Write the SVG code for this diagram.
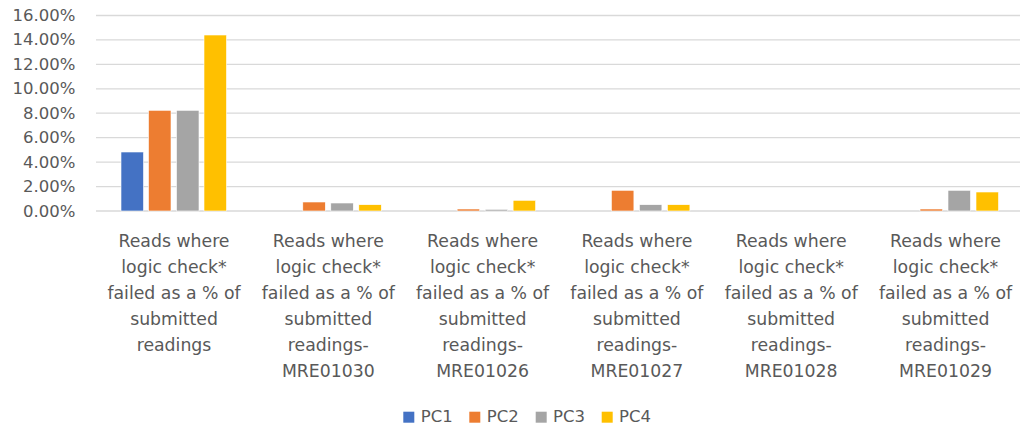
<svg xmlns="http://www.w3.org/2000/svg" width="1020" height="427" viewBox="0 0 1020 427">
<style>
.grid{stroke:#d9d9d9;stroke-width:1.3;fill:none}
.ytick{font-family:"DejaVu Sans","Liberation Sans",sans-serif;font-size:16.5px;fill:#595959;text-anchor:end}
.cat{font-family:"DejaVu Sans","Liberation Sans",sans-serif;font-size:17.3px;fill:#595959;text-anchor:middle}
.leg{font-family:"DejaVu Sans","Liberation Sans",sans-serif;font-size:16.5px;fill:#595959}
.pc1{fill:#4472c4}.pc2{fill:#ed7d31}.pc3{fill:#a5a5a5}.pc4{fill:#ffc000}
.bar{stroke:#ffffff;stroke-width:0.6}
</style>
<rect width="1020" height="427" fill="#ffffff"/>
<g id="gridlines">
<line class="grid" x1="96" y1="15.5" x2="1020" y2="15.5"/>
<line class="grid" x1="96" y1="39.9" x2="1020" y2="39.9"/>
<line class="grid" x1="96" y1="64.3" x2="1020" y2="64.3"/>
<line class="grid" x1="96" y1="88.8" x2="1020" y2="88.8"/>
<line class="grid" x1="96" y1="113.2" x2="1020" y2="113.2"/>
<line class="grid" x1="96" y1="137.7" x2="1020" y2="137.7"/>
<line class="grid" x1="96" y1="162.1" x2="1020" y2="162.1"/>
<line class="grid" x1="96" y1="186.6" x2="1020" y2="186.6"/>
<line class="grid" x1="96" y1="211" x2="1020" y2="211"/>
</g>
<g id="y-axis">
<text class="ytick" x="75.5" y="21">16.00%</text>
<text class="ytick" x="75.5" y="45.4">14.00%</text>
<text class="ytick" x="75.5" y="69.8">12.00%</text>
<text class="ytick" x="75.5" y="94.3">10.00%</text>
<text class="ytick" x="75.5" y="118.7">8.00%</text>
<text class="ytick" x="75.5" y="143.2">6.00%</text>
<text class="ytick" x="75.5" y="167.6">4.00%</text>
<text class="ytick" x="75.5" y="192.1">2.00%</text>
<text class="ytick" x="75.5" y="216.5">0.00%</text>
</g>
<g id="bars">
<rect class="bar pc1" x="121" y="152" width="22.5" height="59"/>
<rect class="bar pc2" x="148.5" y="110.3" width="22.5" height="100.7"/>
<rect class="bar pc3" x="176.5" y="110.3" width="22.5" height="100.7"/>
<rect class="bar pc4" x="204" y="35" width="22.5" height="176"/>

<rect class="bar pc2" x="302.8" y="202" width="22.5" height="9"/>
<rect class="bar pc3" x="330.8" y="203" width="22.5" height="8"/>
<rect class="bar pc4" x="358.8" y="204.7" width="22.5" height="6.3"/>

<rect class="bar pc2" x="457.1" y="209" width="22.5" height="2"/>
<rect class="bar pc3" x="485.1" y="209.3" width="22.5" height="1.7"/>
<rect class="bar pc4" x="513.1" y="200.3" width="22.5" height="10.7"/>

<rect class="bar pc2" x="611.4" y="190.3" width="22.5" height="20.7"/>
<rect class="bar pc3" x="639.4" y="204.7" width="22.5" height="6.3"/>
<rect class="bar pc4" x="667.4" y="204.7" width="22.5" height="6.3"/>

<rect class="bar pc2" x="920" y="209" width="22.5" height="2"/>
<rect class="bar pc3" x="948" y="190.3" width="22.5" height="20.7"/>
<rect class="bar pc4" x="976" y="192" width="22.5" height="19"/>
</g>
<g id="categories">
<g id="cat1">
<text class="cat" x="174" y="247">Reads where</text>
<text class="cat" x="174" y="273">logic check*</text>
<text class="cat" x="174" y="299">failed as a % of</text>
<text class="cat" x="174" y="325">submitted</text>
<text class="cat" x="174" y="350.5">readings</text>
</g>
<g id="cat2">
<text class="cat" x="328.3" y="247">Reads where</text>
<text class="cat" x="328.3" y="273">logic check*</text>
<text class="cat" x="328.3" y="299">failed as a % of</text>
<text class="cat" x="328.3" y="325">submitted</text>
<text class="cat" x="328.3" y="350.5">readings-</text>
<text class="cat" x="328.3" y="376.5">MRE01030</text>
</g>
<g id="cat3">
<text class="cat" x="482.6" y="247">Reads where</text>
<text class="cat" x="482.6" y="273">logic check*</text>
<text class="cat" x="482.6" y="299">failed as a % of</text>
<text class="cat" x="482.6" y="325">submitted</text>
<text class="cat" x="482.6" y="350.5">readings-</text>
<text class="cat" x="482.6" y="376.5">MRE01026</text>
</g>
<g id="cat4">
<text class="cat" x="636.9" y="247">Reads where</text>
<text class="cat" x="636.9" y="273">logic check*</text>
<text class="cat" x="636.9" y="299">failed as a % of</text>
<text class="cat" x="636.9" y="325">submitted</text>
<text class="cat" x="636.9" y="350.5">readings-</text>
<text class="cat" x="636.9" y="376.5">MRE01027</text>
</g>
<g id="cat5">
<text class="cat" x="791.2" y="247">Reads where</text>
<text class="cat" x="791.2" y="273">logic check*</text>
<text class="cat" x="791.2" y="299">failed as a % of</text>
<text class="cat" x="791.2" y="325">submitted</text>
<text class="cat" x="791.2" y="350.5">readings-</text>
<text class="cat" x="791.2" y="376.5">MRE01028</text>
</g>
<g id="cat6">
<text class="cat" x="945.5" y="247">Reads where</text>
<text class="cat" x="945.5" y="273">logic check*</text>
<text class="cat" x="945.5" y="299">failed as a % of</text>
<text class="cat" x="945.5" y="325">submitted</text>
<text class="cat" x="945.5" y="350.5">readings-</text>
<text class="cat" x="945.5" y="376.5">MRE01029</text>
</g>
</g>
<g id="legend">
<rect class="pc1" x="403.3" y="411.7" width="11" height="11"/>
<text class="leg" x="420.7" y="422.3">PC1</text>
<rect class="pc2" x="469.3" y="411.7" width="11" height="11"/>
<text class="leg" x="486.7" y="422.3">PC2</text>
<rect class="pc3" x="535.7" y="411.7" width="11" height="11"/>
<text class="leg" x="553" y="422.3">PC3</text>
<rect class="pc4" x="601.7" y="411.7" width="11" height="11"/>
<text class="leg" x="619" y="422.3">PC4</text>
</g>
</svg>
